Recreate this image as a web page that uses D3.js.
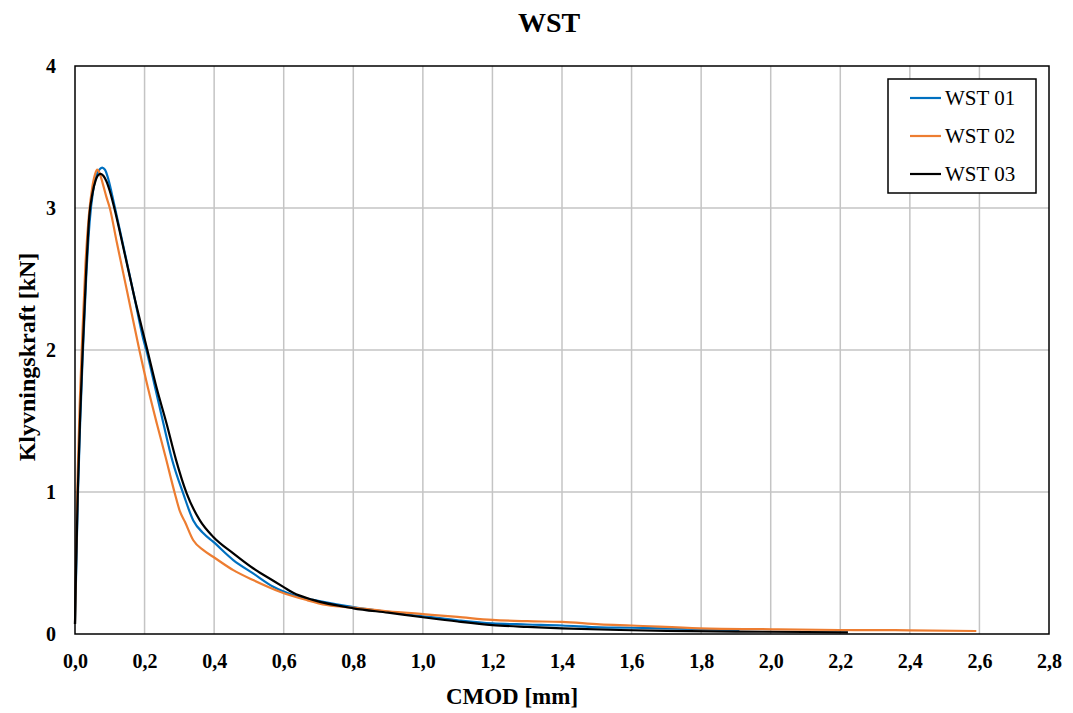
<!DOCTYPE html>
<html>
<head>
<meta charset="utf-8">
<script src="https://cdn.jsdelivr.net/npm/d3@7"></script>
<style>
  body { margin: 0; background: #fff; }
  svg { display: block; }
  text { font-family: "Liberation Serif", "Times New Roman", serif; }
</style>
</head>
<body>
<svg id="chart" width="1073" height="713"></svg>
<script>
// ---- Data ----
const seriesNames = ["WST 01", "WST 02", "WST 03"];
const seriesColors = ["#0070C0", "#ED7D31", "#000000"];

const wst01X = [0, 0.003, 0.008, 0.015, 0.022, 0.032, 0.042, 0.052, 0.062, 0.07, 0.078, 0.086, 0.095, 0.105, 0.115, 0.14, 0.17, 0.196, 0.205, 0.23, 0.254, 0.28, 0.311, 0.34, 0.369, 0.397, 0.455, 0.512, 0.57, 0.627, 0.684, 0.8, 0.9, 1.0, 1.1, 1.2, 1.3, 1.4, 1.509, 1.6, 1.69, 1.8, 1.91];
const wst01Y = [0.07, 0.4, 0.95, 1.5, 1.95, 2.5, 2.9, 3.12, 3.23, 3.27, 3.285, 3.27, 3.21, 3.11, 3.0, 2.72, 2.38, 2.08, 2.0, 1.74, 1.484, 1.22, 0.99, 0.8, 0.709, 0.65, 0.521, 0.427, 0.333, 0.275, 0.24, 0.19, 0.155, 0.125, 0.097, 0.075, 0.067, 0.06, 0.047, 0.044, 0.04, 0.034, 0.028];

const wst02X = [0, 0.003, 0.008, 0.014, 0.021, 0.03, 0.04, 0.05, 0.058, 0.064, 0.07, 0.08, 0.09, 0.1, 0.12, 0.15, 0.185, 0.21, 0.235, 0.26, 0.287, 0.302, 0.316, 0.34, 0.369, 0.397, 0.455, 0.512, 0.589, 0.666, 0.723, 0.819, 0.9, 1.0, 1.1, 1.2, 1.3, 1.4, 1.509, 1.6, 1.796, 2.006, 2.198, 2.4, 2.591];
const wst02Y = [0.07, 0.55, 1.15, 1.65, 2.1, 2.6, 2.95, 3.15, 3.24, 3.27, 3.25, 3.17, 3.08, 3.0, 2.76, 2.41, 2.0, 1.73, 1.484, 1.25, 0.99, 0.861, 0.79, 0.66, 0.59, 0.544, 0.45, 0.38, 0.298, 0.239, 0.204, 0.181, 0.16, 0.14, 0.12, 0.099, 0.09, 0.085, 0.068, 0.06, 0.04, 0.033, 0.028, 0.026, 0.021];

const wst03X = [0, 0.003, 0.008, 0.015, 0.022, 0.032, 0.041, 0.05, 0.06, 0.068, 0.074, 0.082, 0.09, 0.1, 0.113, 0.14, 0.17, 0.208, 0.235, 0.263, 0.29, 0.321, 0.359, 0.397, 0.455, 0.512, 0.57, 0.6, 0.627, 0.684, 0.8, 0.9, 1.0, 1.1, 1.2, 1.3, 1.4, 1.566, 1.7, 1.9, 2.1, 2.222];
const wst03Y = [0.07, 0.45, 1.0, 1.55, 2.0, 2.55, 2.94, 3.1, 3.2, 3.235, 3.24, 3.225, 3.19, 3.12, 3.0, 2.71, 2.38, 2.0, 1.73, 1.484, 1.23, 0.99, 0.8, 0.685, 0.568, 0.463, 0.375, 0.33, 0.29, 0.24, 0.181, 0.15, 0.118, 0.088, 0.063, 0.05, 0.04, 0.028, 0.022, 0.017, 0.014, 0.012];

const xTicks = [0, 0.2, 0.4, 0.6, 0.8, 1.0, 1.2, 1.4, 1.6, 1.8, 2.0, 2.2, 2.4, 2.6, 2.8];
const yTicks = [0, 1, 2, 3, 4];

const chartTitle = "WST";
const xTitle = "CMOD [mm]";
const yTitle = "Klyvningskraft [kN]";

// ---- Layout ----
const FONT = '"Liberation Serif", "Times New Roman", serif';
const svg = d3.select("#chart");
const plot = { left: 75, top: 66, right: 1049, bottom: 634 };

const x = d3.scaleLinear().domain([0, 2.8]).range([plot.left, plot.right]);
const y = d3.scaleLinear().domain([0, 4]).range([plot.bottom, plot.top]);

// Gridlines
const grid = svg.append("g");
grid.selectAll("line.vx").data(xTicks.slice(1, -1)).enter().append("line")
  .attr("x1", d => x(d)).attr("x2", d => x(d))
  .attr("y1", plot.top).attr("y2", plot.bottom)
  .attr("stroke", "#c4c4c4").attr("stroke-width", 1.5);
grid.selectAll("line.hy").data(yTicks.slice(1, -1)).enter().append("line")
  .attr("x1", plot.left).attr("x2", plot.right)
  .attr("y1", d => y(d)).attr("y2", d => y(d))
  .attr("stroke", "#c4c4c4").attr("stroke-width", 1.5);

// Series
const seriesData = [
  d3.zip(wst01X, wst01Y),
  d3.zip(wst02X, wst02Y),
  d3.zip(wst03X, wst03Y)
];
const line = d3.line().x(d => x(d[0])).y(d => y(d[1])).curve(d3.curveMonotoneX);
[0, 1, 2].forEach(i => {
  svg.append("path")
    .datum(seriesData[i])
    .attr("d", line)
    .attr("fill", "none")
    .attr("stroke", seriesColors[i])
    .attr("stroke-width", 2.2)
    .attr("stroke-linejoin", "round");
});

// Plot border
svg.append("rect")
  .attr("x", plot.left).attr("y", plot.top)
  .attr("width", plot.right - plot.left).attr("height", plot.bottom - plot.top)
  .attr("fill", "none").attr("stroke", "#000").attr("stroke-width", 1.5);

// Axes
const fmt = d => d3.format(".1f")(d).replace(".", ",");
const xAxis = svg.append("g")
  .attr("transform", `translate(0,${plot.bottom})`)
  .call(d3.axisBottom(x).tickValues(xTicks).tickFormat(fmt).tickSize(0).tickPadding(20));
const yAxis = svg.append("g")
  .attr("transform", `translate(${plot.left},0)`)
  .call(d3.axisLeft(y).tickValues(yTicks).tickFormat(d3.format("d")).tickSize(0).tickPadding(19));
[xAxis, yAxis].forEach(a => {
  a.select(".domain").remove();
  a.selectAll("text")
    .attr("font-family", FONT)
    .attr("font-size", 20).attr("font-weight", "bold").attr("fill", "#000");
});

// Titles
svg.append("text")
  .attr("x", 549).attr("y", 32)
  .attr("text-anchor", "middle")
  .attr("font-family", FONT)
  .attr("font-size", 28).attr("font-weight", "bold")
  .text(chartTitle);
svg.append("text")
  .attr("x", 512).attr("y", 704)
  .attr("text-anchor", "middle")
  .attr("font-family", FONT)
  .attr("font-size", 23).attr("font-weight", "bold")
  .text(xTitle);
svg.append("text")
  .attr("transform", "translate(35,357) rotate(-90)")
  .attr("text-anchor", "middle")
  .attr("font-family", FONT)
  .attr("font-size", 24).attr("font-weight", "bold")
  .text(yTitle);

// Legend
const legend = svg.append("g");
legend.append("rect")
  .attr("x", 888).attr("y", 79).attr("width", 148).attr("height", 114)
  .attr("fill", "#fff").attr("stroke", "#000").attr("stroke-width", 1.5);
seriesNames.forEach((name, i) => {
  const cy = 98 + i * 38;
  legend.append("line")
    .attr("x1", 910).attr("x2", 941).attr("y1", cy).attr("y2", cy)
    .attr("stroke", seriesColors[i]).attr("stroke-width", 2.2);
  legend.append("text")
    .attr("x", 945).attr("y", cy).attr("dy", "0.35em")
    .attr("font-family", FONT)
    .attr("font-size", 21)
    .text(name);
});
</script>
</body>
</html>
